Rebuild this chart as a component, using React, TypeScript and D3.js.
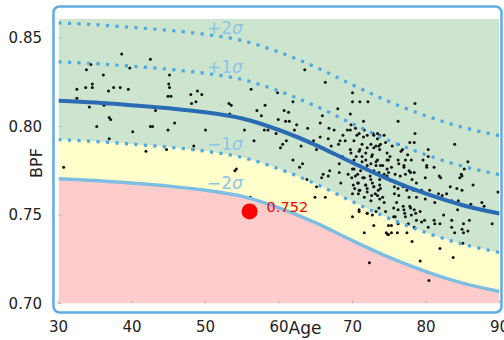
import React from "react";
import * as d3 from "d3";

const xTicks = [30, 40, 50, 60, 70, 80, 90];
const yTicks = [0.7, 0.75, 0.8, 0.85];
const yTickLabels = ["0.70", "0.75", "0.80", "0.85"];

const meanAges = [30, 35, 40, 45, 50, 55, 60, 65, 70, 75, 80, 85, 90];
const meanBpf = [0.8145, 0.8135, 0.812, 0.8103, 0.808, 0.8045, 0.798, 0.7895, 0.7795, 0.77, 0.762, 0.7555, 0.7508];
const sigma = 0.022;

const bandLabels = [
  { k: 2, sign: "+", num: "2" },
  { k: 1, sign: "+", num: "1" },
  { k: -1, sign: "\u2212", num: "1" },
  { k: -2, sign: "\u2212", num: "2" },
];

const subjectAge = 56;
const subjectBpf = 0.752;
const subjectLabel = "0.752";

const scatterPoints: [number, number][] = [
  [38.6,0.841],[42.5,0.838],[34.4,0.835],[33.8,0.832],[39.7,0.833],[36.1,0.829],[45.1,0.829],[34.6,0.824],
  [33.7,0.822],[34.6,0.822],[32.5,0.821],[37.5,0.822],[38.4,0.822],[36.8,0.82],[39.5,0.821],[45.0,0.824],
  [45.1,0.822],[44.9,0.817],[45.3,0.817],[48.0,0.818],[48.9,0.82],[49.5,0.818],[48.7,0.814],[48.1,0.813],
  [32.5,0.816],[34.2,0.811],[36.2,0.812],[39.4,0.812],[43.2,0.809],[47.3,0.809],[53.2,0.813],[53.5,0.812],
  [56.2,0.821],[59.8,0.819],[58.1,0.812],[57.0,0.809],[57.6,0.806],[53.3,0.807],[36.9,0.805],[37.1,0.804],
  [35.2,0.8],[40.1,0.797],[42.5,0.8],[42.8,0.8],[44.9,0.798],[45.8,0.802],[50.0,0.798],[55.3,0.798],
  [58.0,0.798],[58.5,0.798],[59.6,0.796],[59.9,0.804],[56.6,0.792],[36.9,0.793],[41.9,0.786],[44.7,0.787],
  [48.4,0.789],[48.3,0.787],[30.7,0.777],[54.0,0.775],[54.2,0.776],[56.1,0.76],[60.2,0.788],
  [63.5,0.832],[66.3,0.825],[70.0,0.819],[70.0,0.814],[71.0,0.814],[72.1,0.814],[61.9,0.814],[60.7,0.809],
  [61.3,0.808],[65.9,0.806],[68.0,0.81],[69.7,0.807],[65.6,0.802],[60.9,0.803],[61.4,0.803],[62.4,0.801],
  [63.9,0.799],[62.1,0.798],[66.8,0.799],[67.5,0.798],[69.7,0.798],[71.5,0.803],[72.8,0.796],[73.4,0.796],
  [73.7,0.795],[70.6,0.795],[71.5,0.794],[68.7,0.795],[69.0,0.792],[68.3,0.792],[66.7,0.793],[65.6,0.794],
  [64.7,0.792],[61.0,0.792],[60.5,0.79],[63.0,0.789],[65.1,0.787],[67.1,0.789],[68.1,0.79],[69.8,0.785],
  [71.0,0.787],[72.0,0.788],[72.9,0.788],[73.6,0.789],[73.7,0.787],[70.5,0.783],[71.3,0.783],[71.8,0.781],
  [72.6,0.783],[73.4,0.781],[74.9,0.781],[61.9,0.781],[63.2,0.779],[62.8,0.777],[66.9,0.775],[70.0,0.776],
  [70.9,0.778],[72.0,0.778],[73.2,0.778],[74.1,0.778],[66.0,0.773],[66.7,0.772],[65.8,0.771],[63.8,0.77],
  [68.2,0.774],[69.4,0.773],[69.9,0.771],[70.7,0.773],[71.4,0.771],[72.4,0.772],[73.3,0.773],[73.7,0.77],
  [74.7,0.772],[68.4,0.768],[70.1,0.767],[70.8,0.768],[71.8,0.767],[72.7,0.768],[73.7,0.767],[70.3,0.765],
  [71.0,0.764],[72.0,0.765],[72.9,0.766],[73.5,0.764],[65.1,0.766],[70.8,0.762],[72.6,0.761],[73.4,0.761],
  [73.7,0.759],[64.9,0.76],[66.3,0.76],[70.0,0.762],[70.9,0.752],[72.0,0.751],[72.7,0.75],[73.2,0.752],
  [70.0,0.749],[72.9,0.744],[71.6,0.74],[74.6,0.74],[74.9,0.739],[72.3,0.723],
  [78.5,0.813],[76.2,0.803],[78.5,0.796],[83.9,0.79],[77.8,0.791],[78.4,0.791],[76.2,0.79],[75.4,0.789],
  [80.3,0.787],[76.8,0.787],[77.5,0.784],[75.1,0.783],[74.7,0.781],[76.2,0.781],[77.2,0.781],[78.0,0.781],
  [79.6,0.781],[80.3,0.783],[85.7,0.78],[85.2,0.776],[84.8,0.773],[84.9,0.772],[84.6,0.771],[80.1,0.778],
  [80.1,0.777],[81.1,0.777],[81.8,0.772],[82.0,0.771],[76.3,0.779],[77.0,0.778],[77.7,0.775],[78.4,0.774],
  [75.3,0.777],[74.7,0.776],[74.9,0.774],[75.8,0.773],[76.5,0.772],[77.2,0.773],[78.1,0.77],[78.7,0.768],
  [79.9,0.771],[86.4,0.767],[83.3,0.766],[84.2,0.765],[84.9,0.764],[89.8,0.763],[75.7,0.766],[76.2,0.765],
  [76.9,0.766],[77.4,0.764],[78.3,0.764],[79.4,0.764],[80.5,0.764],[81.7,0.762],[82.8,0.762],[75.7,0.762],
  [76.3,0.761],[77.7,0.76],[78.7,0.76],[79.9,0.759],[82.2,0.761],[83.5,0.758],[83.9,0.757],[84.4,0.758],
  [86.1,0.756],[87.6,0.757],[87.9,0.755],[76.0,0.757],[76.9,0.755],[77.8,0.755],[78.4,0.753],[79.2,0.752],
  [81.2,0.757],[84.3,0.753],[76.2,0.753],[77.1,0.751],[78.0,0.75],[82.4,0.75],[75.8,0.749],[77.2,0.749],
  [78.7,0.747],[79.8,0.747],[81.1,0.747],[83.5,0.747],[85.9,0.747],[76.2,0.745],[77.6,0.745],[79.4,0.746],
  [81.2,0.745],[81.9,0.745],[85.1,0.745],[89.0,0.745],[74.9,0.744],[75.3,0.744],[78.4,0.743],[80.3,0.743],
  [83.5,0.743],[84.9,0.742],[75.3,0.74],[76.1,0.74],[77.4,0.74],[74.8,0.739],[83.9,0.74],[85.1,0.74],
  [85.7,0.741],[78.1,0.735],[85.0,0.734],[81.9,0.731],[83.7,0.726],[79.2,0.724],[80.4,0.713],
  [69.8,0.801],[69.3,0.798],[70.4,0.799],[70.9,0.796],[71.6,0.798],[72.0,0.795],[72.9,0.795],[73.4,0.793],
  [74.3,0.795],[70.2,0.792],[71.3,0.79],[72.5,0.79],[73.2,0.789],[73.8,0.79],[74.5,0.791],[69.7,0.787],
  [70.9,0.786],[71.8,0.785],[72.7,0.784],[68.6,0.783],[74.7,0.785],[76.6,0.786],[70.2,0.781],[71.3,0.78],
  [72.5,0.779],[73.2,0.78],[73.8,0.778],[68.2,0.779],[70.2,0.776],[71.1,0.775],[72.0,0.776],[72.9,0.775],
  [73.6,0.774],[74.3,0.773],[77.0,0.777],[77.9,0.774],[70.4,0.772],[71.6,0.771],[72.5,0.77],[70.7,0.768],
  [71.8,0.767],[72.9,0.766],[73.8,0.765],[70.9,0.764],[72.0,0.763],[73.1,0.762],[74.1,0.76],[71.6,0.76],
  [72.5,0.758],[74.3,0.757],[75.6,0.754],[73.6,0.754],[74.5,0.752],[70.9,0.753],[72.0,0.751],[75.6,0.749],
  [77.0,0.753],[77.9,0.754],[78.6,0.751],
];

const W = 504;
const H = 340;
const plotLeft = 58.5;
const plotRight = 499.5;
const plotTop = 19;
const plotBottom = 303.5;

const FONT = "'DejaVu Sans', sans-serif";
const DOT_BLUE = "#4fa8e0";
const LABEL_BLUE = "#8cc6e8";

export default function App() {
  const x = d3.scaleLinear().domain([30, 90]).range([plotLeft, plotRight]);
  const y = d3.scaleLinear().domain([0.7, 0.8607]).range([plotBottom, plotTop]);

  const curvePts = (k: number) =>
    meanAges.map((a, i) => [a, meanBpf[i] + k * sigma] as [number, number]);

  const line = d3
    .line<[number, number]>()
    .x((d) => x(d[0]))
    .y((d) => y(d[1]))
    .curve(d3.curveCatmullRom);

  const areaBetween = (lowK: number | null, highK: number | null) =>
    d3
      .area<number>()
      .x((_, i) => x(meanAges[i]))
      .y0((_, i) => (lowK === null ? plotBottom : y(meanBpf[i] + lowK * sigma)))
      .y1((_, i) => (highK === null ? plotTop : y(meanBpf[i] + highK * sigma)))
      .curve(d3.curveCatmullRom)(meanAges.map((_, i) => i)) || "";

  const labelAge = 50.2;
  const meanAt = (a: number) => {
    const i = d3.bisectLeft(meanAges, a);
    const a0 = meanAges[i - 1], a1 = meanAges[i];
    const t = (a - a0) / (a1 - a0);
    return meanBpf[i - 1] * (1 - t) + meanBpf[i] * t;
  };

  return (
    <svg width={W} height={H} style={{ position: "absolute", left: 0, top: 0 }} fontFamily={FONT}>
      <rect x={0} y={0} width={W} height={H} fill="#ffffff" />
      <defs>
        <clipPath id="plotClip">
          <rect x={plotLeft} y={plotTop} width={plotRight - plotLeft} height={plotBottom - plotTop} />
        </clipPath>
      </defs>
      <rect x={53.5} y={6.5} width={448} height={306} rx={6} ry={6} fill="#ffffff" stroke="#5dade2" strokeWidth={2.5} />
      <g clipPath="url(#plotClip)">
        <path d={areaBetween(-1, null)} fill="#cde5cf" />
        <path d={areaBetween(-2, -1)} fill="#ffffcc" />
        <path d={areaBetween(null, -2)} fill="#ffcccc" />
        {scatterPoints.map((p, i) => (
          <circle key={i} cx={x(p[0])} cy={y(p[1])} r={1.5} fill="#111" />
        ))}
        {[2, 1, -1].map((k) => (
          <path key={k} d={line(curvePts(k)) || ""} fill="none" stroke={DOT_BLUE} strokeWidth={3.2} strokeDasharray="3.2 6.3" />
        ))}
        <path d={line(curvePts(-2)) || ""} fill="none" stroke="#7ebee3" strokeWidth={3.5} />
        <path d={line(curvePts(0)) || ""} fill="none" stroke="#2a6cb4" strokeWidth={4} />
      </g>
      {xTicks.map((t) => (
        <line key={t} x1={x(t)} x2={x(t)} y1={plotBottom} y2={plotBottom - 3} stroke="#bbb" strokeWidth={1} />
      ))}
      {yTicks.map((t) => (
        <line key={t} x1={plotLeft} x2={plotLeft + 3} y1={y(t)} y2={y(t)} stroke="#bbb" strokeWidth={1} />
      ))}
      {bandLabels.map((b) => (
        <text key={b.k} x={x(labelAge)} y={y(meanAt(labelAge) + b.k * sigma) - 1} fontSize={17} fill={LABEL_BLUE}>
          {b.sign + b.num}
          <tspan fontStyle="italic">{"\u03c3"}</tspan>
        </text>
      ))}
      <circle cx={x(subjectAge)} cy={y(subjectBpf)} r={8} fill="#ff0000" />
      <text x={x(subjectAge) + 17} y={y(subjectBpf) + 1} fontSize={14.5} fill="#ff0000">
        {subjectLabel}
      </text>
      {xTicks.map((t) => (
        <text key={t} x={x(t)} y={332} fontSize={15} textAnchor="middle" fill="#222">
          {t}
        </text>
      ))}
      {yTicks.map((t, i) => (
        <text key={t} x={42} y={y(t) + 5.5} fontSize={15} textAnchor="end" fill="#222">
          {yTickLabels[i]}
        </text>
      ))}
      <text x={305} y={334} fontSize={17} textAnchor="middle" fill="#222">
        Age
      </text>
      <text transform="translate(42,163) rotate(-90)" fontSize={16} textAnchor="middle" fill="#222">
        BPF
      </text>
    </svg>
  );
}
